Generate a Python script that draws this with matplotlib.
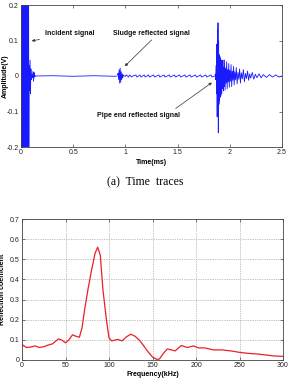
import matplotlib
matplotlib.use("Agg")
import matplotlib.pyplot as plt

plt.rcParams['font.family'] = ['Liberation Sans', 'DejaVu Sans']

# ---------------- (a) time trace data (ms, V) ----------------
incident_t = [0.000, 0.0025, 0.005, 0.0075, 0.010, 0.0125, 0.015, 0.0175, 0.020, 0.0225,
              0.025, 0.0275, 0.030, 0.0325, 0.035, 0.0375, 0.040, 0.0425, 0.045, 0.0475,
              0.050, 0.0525, 0.055, 0.0575, 0.060, 0.0625, 0.065, 0.0675, 0.070, 0.0725,
              0.075, 0.078, 0.082, 0.087, 0.091, 0.095, 0.100, 0.105, 0.110, 0.115,
              0.120, 0.125, 0.130, 0.140]
incident_v = [0.0, 0.35, -0.35, 0.35, -0.35, 0.35, -0.35, 0.35, -0.35, 0.35,
              -0.35, 0.35, -0.35, 0.35, -0.35, 0.35, -0.35, 0.35, -0.35, 0.35,
              -0.35, 0.35, -0.35, 0.35, -0.35, 0.35, -0.35, 0.35, -0.35, 0.35,
              -0.30, 0.03, -0.04, 0.045, -0.05, 0.02, -0.01, 0.005, -0.005, 0.013,
              -0.015, 0.010, -0.003, 0.0]

baseline_t = [0.14, 0.30, 0.50, 0.70, 0.90, 0.92]
baseline_v = [0.0, 0.0008, -0.0008, 0.0008, -0.0008, 0.0]

sludge_t = [0.925, 0.930, 0.935, 0.940, 0.945, 0.950, 0.955, 0.960, 0.965, 0.970, 0.975, 0.980, 0.990, 1.000]
sludge_v = [0.004, 0.008, -0.010, 0.018, -0.020, 0.022, -0.018, 0.012, -0.010, 0.006, -0.005, 0.003, 0.0, 0.0]

noise_t = [1.00, 1.01, 1.03, 1.04, 1.06, 1.07, 1.10, 1.11, 1.14, 1.15, 1.18, 1.19, 1.22, 1.23,
           1.27, 1.28, 1.32, 1.33, 1.37, 1.38, 1.42, 1.43, 1.47, 1.48, 1.52, 1.53, 1.57, 1.58,
           1.62, 1.63, 1.67, 1.68, 1.72, 1.73, 1.77, 1.78, 1.82, 1.83, 1.855]
noise_v = [0.0, 0.003, -0.003, 0.003, -0.003, 0.0, 0.003, -0.003, 0.003, -0.003, 0.003, -0.003, 0.003, -0.003,
           0.003, -0.003, 0.003, -0.003, 0.003, -0.003, 0.003, -0.003, 0.003, -0.003, 0.003, -0.003, 0.003, -0.003,
           0.003, -0.003, 0.003, -0.003, 0.003, -0.003, 0.003, -0.003, 0.003, -0.003, 0.0]

pipe_t = [1.860, 1.865, 1.870, 1.873, 1.876, 1.879, 1.882, 1.885, 1.887, 1.890,
          1.893, 1.896, 1.899, 1.902, 1.905, 1.908, 1.911, 1.914, 1.918, 1.922,
          1.926, 1.930, 1.934, 1.938, 1.942, 1.946, 1.950, 1.955, 1.960, 1.965,
          1.970, 1.975, 1.980, 1.985, 1.990, 1.995, 2.000, 2.006, 2.012, 2.018,
          2.024, 2.030, 2.036, 2.042, 2.048, 2.055, 2.062, 2.070, 2.078, 2.086,
          2.094, 2.102, 2.110, 2.120, 2.130, 2.140, 2.150, 2.160, 2.170, 2.180,
          2.190, 2.200, 2.215, 2.230, 2.245, 2.260, 2.280, 2.300, 2.320, 2.350,
          2.380, 2.410, 2.440, 2.470, 2.500]
pipe_v = [0.005, -0.010, 0.030, -0.050, 0.090, -0.115, 0.130, -0.090, 0.150, -0.160,
          0.100, -0.080, 0.060, -0.070, 0.055, -0.060, 0.050, -0.055, 0.045, -0.050,
          0.030, -0.035, 0.045, -0.042, 0.025, -0.030, 0.045, -0.040, 0.022, -0.020,
          0.040, -0.036, 0.018, -0.016, 0.035, -0.032, 0.016, -0.015, 0.032, -0.030,
          0.014, -0.012, 0.027, -0.025, 0.012, -0.011, 0.024, -0.022, 0.010, -0.009,
          0.020, -0.020, 0.009, -0.008, 0.018, -0.016, 0.007, -0.007, 0.014, -0.012,
          0.006, -0.006, 0.010, -0.009, 0.005, -0.005, 0.006, -0.005, 0.004, -0.004,
          0.004, -0.003, 0.003, -0.003, 0.0]

time_xticks = [0, 0.5, 1, 1.5, 2, 2.5]
time_xticklabels = ['0', '0.5', '1', '1.5', '2', '2.5']
amp_yticks = [-0.2, -0.1, 0, 0.1, 0.2]
amp_yticklabels = ['-0.2', '-0.1', '0', '0.1', '0.2']

# ---------------- (b) reflection coefficient data ----------------
freq = [0, 5, 10, 15, 20, 25, 30, 35, 42, 46, 50, 54, 58, 62, 66, 69, 72, 76, 80, 84,
        87, 90, 93, 97, 100, 103, 106, 110, 115, 120, 125, 130, 135, 140, 145, 150, 155,
        158, 162, 167, 172, 176, 183, 190, 197, 203, 210, 220, 230, 240, 250, 260, 270,
        280, 290, 300]
refl = [0.077, 0.062, 0.064, 0.070, 0.062, 0.066, 0.074, 0.080, 0.105, 0.098, 0.085, 0.100,
        0.125, 0.118, 0.113, 0.160, 0.250, 0.355, 0.447, 0.530, 0.560, 0.520, 0.350, 0.200,
        0.110, 0.095, 0.098, 0.102, 0.095, 0.115, 0.128, 0.118, 0.098, 0.070, 0.040, 0.015,
        0.003, 0.005, 0.030, 0.055, 0.050, 0.045, 0.072, 0.062, 0.070, 0.060, 0.060, 0.050,
        0.050, 0.045, 0.038, 0.033, 0.030, 0.025, 0.020, 0.018]

freq_xticks = [0, 50, 100, 150, 200, 250, 300]
refl_yticks = [0, 0.1, 0.2, 0.3, 0.4, 0.5, 0.6, 0.7]
refl_yticklabels = ['0', '0.1', '0.2', '0.3', '0.4', '0.5', '0.6', '0.7']

W, H = 290, 385
fig = plt.figure(figsize=(W / 100, H / 100), dpi=100)

frame_col = '#444444'
tick_fs = 5
lab_fs = 5


def style(ax):
    for s in ax.spines.values():
        s.set_color(frame_col)
        s.set_linewidth(0.6)
    ax.tick_params(direction='in', top=True, right=True, length=2.5, width=0.5,
                   colors=frame_col, labelcolor='#222222', labelsize=tick_fs, pad=1.5)


# ---- top axes ----
ax1 = fig.add_axes([21 / W, 1 - 147 / H, 261 / W, 142 / H])
blue = '#1a1aff'
lw = 0.6
ax1.plot(incident_t, incident_v, color=blue, lw=lw)
ax1.plot(baseline_t, baseline_v, color=blue, lw=lw)
ax1.plot(sludge_t, sludge_v, color=blue, lw=lw)
ax1.plot(noise_t, noise_v, color=blue, lw=lw)
ax1.plot(pipe_t, pipe_v, color=blue, lw=lw)
ax1.set_xlim(0, 2.5)
ax1.set_ylim(-0.2, 0.2)
ax1.set_xticks(time_xticks)
ax1.set_xticklabels(time_xticklabels)
ax1.set_yticks(amp_yticks)
ax1.set_yticklabels(amp_yticklabels)
style(ax1)
ax1.set_xlabel('Time(ms)', fontsize=lab_fs, fontweight='bold', labelpad=2)
ax1.set_ylabel('Amplitude(V)', fontsize=lab_fs, fontweight='bold')
ax1.yaxis.set_label_coords(-12.5 / 261, 0.5)

ann_kw = dict(fontsize=5, fontweight='bold', color='#111111')
arr = dict(arrowstyle='-|>', color='#333333', lw=0.5, mutation_scale=4)
ax1.annotate('Incident signal', xy=(0.077, 0.097), xytext=(0.23, 0.121),
             va='center', ha='left', arrowprops=arr, **ann_kw)
ax1.annotate('', xy=(0.975, 0.022), xytext=(1.27, 0.107), arrowprops=arr)
ax1.text(0.88, 0.121, 'Sludge reflected signal', va='center', ha='left', **ann_kw)
ax1.annotate('', xy=(1.85, -0.014), xytext=(1.46, -0.096), arrowprops=arr)
ax1.text(0.73, -0.110, 'Pipe end reflected signal', va='center', ha='left', **ann_kw)

fig.text(145 / W, 1 - 182 / H, '(a)  Time  traces', ha='center', va='center',
         fontsize=8.5, family='Liberation Serif')

# ---- bottom axes ----
ax2 = fig.add_axes([22 / W, 1 - 360 / H, 261 / W, 141 / H])
ax2.plot(freq, refl, color='#e8202a', lw=0.9)
ax2.set_xlim(0, 300)
ax2.set_ylim(0, 0.7)
ax2.set_xticks(freq_xticks)
ax2.set_yticks(refl_yticks)
ax2.set_yticklabels(refl_yticklabels)
ax2.grid(True, linestyle=(0, (1, 1.5)), color='#8a8a8a', lw=0.5)
style(ax2)
ax2.set_xlabel('Frequency(kHz)', fontsize=lab_fs, fontweight='bold', labelpad=1.5)
ax2.set_ylabel('Reflection coefficient', fontsize=lab_fs, fontweight='bold', labelpad=3)

fig.savefig('out.png', dpi=100)
